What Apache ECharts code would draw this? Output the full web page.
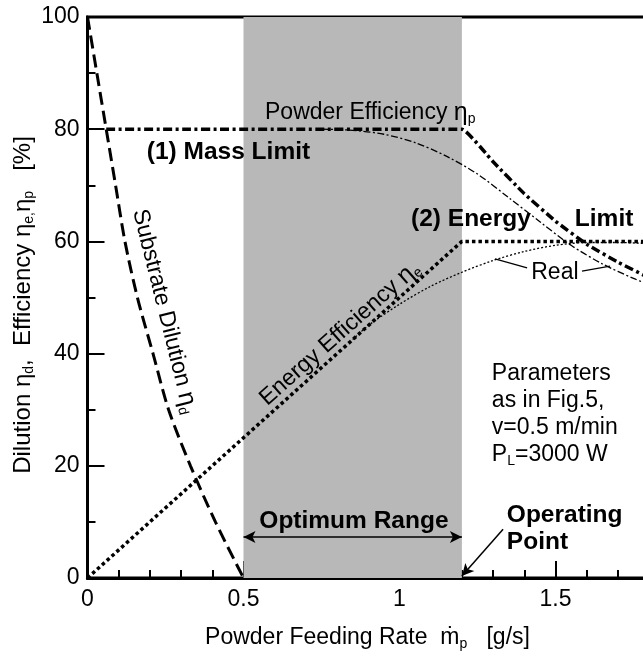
<!DOCTYPE html>
<html>
<head>
<meta charset="utf-8">
<script src="https://cdn.jsdelivr.net/npm/echarts@6/dist/echarts.min.js"></script>
<style>
  html, body { margin: 0; padding: 0; background: #fff; }
  #chart { width: 643px; height: 656px; }
</style>
</head>
<body>
<div id="chart"></div>
<script>
// data
const dilutionX = [0, 0.03, 0.06, 0.09, 0.12, 0.16, 0.21, 0.26, 0.33, 0.41, 0.5];
const dilutionY = [100, 90, 80, 70, 60, 50, 40, 30, 20, 10, 0];

const energyX = [0, 1.2, 1.8];
const energyY = [0, 60, 60];

const realEnergyX = [0.85, 0.9, 1.0, 1.1, 1.2, 1.3, 1.4, 1.5, 1.6, 1.7, 1.8];
const realEnergyY = [42.5, 45, 48.8, 52, 54.5, 56.6, 58.2, 59.3, 59.8, 59.8, 59.6];

const massX = [0.06, 1.2, 1.3, 1.4, 1.5, 1.6, 1.7, 1.8];
const massY = [80, 80, 74.2, 68.5, 63.6, 59.5, 56.3, 53.5];

const realPowderX = [0.75, 0.85, 0.95, 1.05, 1.15, 1.25, 1.35, 1.45, 1.55, 1.65, 1.75, 1.8];
const realPowderY = [80, 79.8, 79.1, 77.6, 75.2, 72.0, 67.8, 63.5, 59.3, 56.0, 53.4, 52.3];

const optimumRange = [0.5, 1.2];
const xTickLabels = ['0', '0.5', '1', '1.5'];

const FONT = 'Liberation Sans, Arial, sans-serif';

function pairs(xs, ys) {
    return xs.map((x, i) => [x, ys[i]]);
}

const sub = { fontSize: 14, lineHeight: 15, verticalAlign: 'bottom', fontFamily: FONT, color: '#000' };
const txt = { fontSize: 23, lineHeight: 27, verticalAlign: 'middle', fontFamily: FONT, color: '#000' };
const eta = Object.assign({}, txt, { fontSize: 25 });
const axisTxt = Object.assign({}, txt, { fontSize: 24 });

const chart = echarts.init(document.getElementById('chart'));

const option = {
    animation: false,
    backgroundColor: '#fff',
    grid: {
        left: 87.5, right: -68.5, top: 17, bottom: 78,
        show: true, borderColor: '#000', borderWidth: 3,
        outerBoundsMode: 'none'
    },
    xAxis: {
        type: 'value', min: 0, max: 2, interval: 0.5,
        splitLine: { show: false },
        axisLine: { lineStyle: { color: '#000', width: 3 } },
        axisTick: { inside: true, length: 17, lineStyle: { color: '#000', width: 2 } },
        minorTick: { show: true, splitNumber: 5, length: 8, lineStyle: { color: '#000', width: 2 } },
        axisLabel: {
            fontSize: 23, fontFamily: FONT, color: '#000', margin: 10,
            showMinLabel: true, showMaxLabel: false,
            formatter: v => xTickLabels.find(t => Math.abs(parseFloat(t) - v) < 1e-6) || ''
        },
        name: '{a|Powder Feeding Rate  m\u0307}{s|p}{a|   [g/s]}',
        nameLocation: 'middle', nameGap: 46,
        nameTextStyle: {
            fontSize: 23, fontFamily: FONT, color: '#000', padding: [0, 64, 0, 0],
            rich: { a: txt, s: sub }
        }
    },
    yAxis: {
        type: 'value', min: 0, max: 100, interval: 20,
        splitLine: { show: false },
        axisLine: { lineStyle: { color: '#000', width: 3 } },
        axisTick: { inside: true, length: 17, lineStyle: { color: '#000', width: 2 } },
        minorTick: { show: true, splitNumber: 2, length: 8, lineStyle: { color: '#000', width: 2 } },
        axisLabel: { fontSize: 23, fontFamily: FONT, color: '#000', margin: 8, showMinLabel: true, showMaxLabel: true },
        name: '{a|Dilution \u03b7}{s|d}{a|,  Efficiency \u03b7}{s|e,}{a|\u03b7}{s|p}{a|   [%]}',
        nameLocation: 'middle', nameGap: 51, nameMoveOverlap: false,
        nameTextStyle: {
            fontSize: 24, fontFamily: FONT, color: '#000', padding: [0, 15, 0, 0],
            rich: { a: axisTxt, s: sub }
        }
    },
    series: [
        {
            type: 'line', data: [], z: 1,
            markArea: {
                silent: true,
                itemStyle: { color: '#b8b8b8' },
                data: [[{ xAxis: optimumRange[0] }, { xAxis: optimumRange[1] }]]
            }
        },
        {
            name: 'Substrate Dilution', type: 'line', data: pairs(dilutionX, dilutionY),
            smooth: 0.3, symbol: 'none', z: 5,
            lineStyle: { color: '#000', width: 3, type: [13, 6], cap: 'butt' }
        },
        {
            name: 'Energy Efficiency', type: 'line', data: pairs(energyX, energyY),
            symbol: 'none', z: 5,
            lineStyle: { color: '#000', width: 3.5, type: [3.5, 3], cap: 'butt' }
        },
        {
            name: 'Energy Real', type: 'line', data: pairs(realEnergyX, realEnergyY),
            smooth: 0.3, symbol: 'none', z: 4,
            lineStyle: { color: '#000', width: 1.3, type: [2, 2], cap: 'butt' }
        },
        {
            name: 'Powder Efficiency', type: 'line', data: pairs(massX, massY),
            smooth: 0.1, symbol: 'none', z: 5,
            lineStyle: { color: '#000', width: 3.5, type: [9, 3.5, 3, 3.5], cap: 'butt' }
        },
        {
            name: 'Powder Real', type: 'line', data: pairs(realPowderX, realPowderY),
            smooth: 0.3, symbol: 'none', z: 4,
            lineStyle: { color: '#000', width: 1.3, type: [7, 2.5, 2, 2.5], cap: 'butt' }
        },
        {
            type: 'line', data: [], z: 6,
            markLine: {
                silent: true, symbol: ['arrow', 'arrow'], symbolSize: [9, 12],
                label: { show: false },
                lineStyle: { color: '#000', width: 1.5, type: 'solid' },
                data: [[{ coord: [0.5, 7.3] }, { coord: [1.2, 7.3] }]]
            }
        },
        {
            type: 'line', data: [], z: 6,
            markLine: {
                silent: true, symbol: ['none', 'arrow'], symbolSize: [9, 12],
                label: { show: false },
                lineStyle: { color: '#000', width: 1.5, type: 'solid' },
                data: [[{ coord: [1.332, 8.7] }, { coord: [1.2, 0.36] }]]
            }
        },
        {
            type: 'line', data: [], z: 6,
            markLine: {
                silent: true, symbol: ['none', 'none'],
                label: { show: false },
                lineStyle: { color: '#000', width: 1.3, type: 'solid' },
                data: [
                    [{ coord: [1.409, 55.3] }, { coord: [1.306, 56.9] }],
                    [{ coord: [1.585, 54.7] }, { coord: [1.675, 55.6] }]
                ]
            }
        }
    ]
};

chart.setOption(option);

// annotation texts, anchored in data coordinates
const notes = [
    { at: [0.569, 82.9], text: '{a|Powder Efficiency }{e|\u03b7}{s|p}', align: 'left' },
    { at: [0.19, 75.9], text: '{b|(1) Mass Limit}', align: 'left' },
    { at: [1.037, 64], text: '{b|(2) Energy}', align: 'left' },
    { at: [1.562, 64], text: '{b|Limit}', align: 'left' },
    { at: [0.247, 47.5], text: '{a|Substrate Dilution }{e|\u03b7}{s|d}', align: 'center', rotate: -76 },
    { at: [0.809, 43.6], text: '{a|Energy Efficiency }{e|\u03b7}{s|e}', align: 'center', rotate: 41.5 },
    { at: [1.498, 54.4], text: '{a|Real}', align: 'center' },
    { at: [0.854, 10.2], text: '{b|Optimum Range}', align: 'center' },
    { at: [1.296, 36.4], text: '{p|Parameters}\n{p|as in Fig.5,}\n{p|v=0.5 m/min}\n{p|P}{s|L}{p|=3000 W}', align: 'left', top: true },
    { at: [1.344, 11.2], text: '{q|Operating}\n{q|Point}', align: 'left', top: true }
];

const rich = {
    a: txt,
    e: eta,
    b: Object.assign({}, txt, { fontSize: 24.5, fontWeight: 'bold' }),
    p: Object.assign({}, txt, { lineHeight: 27 }),
    q: Object.assign({}, txt, { fontSize: 24.5, lineHeight: 27, fontWeight: 'bold' }),
    s: sub
};

const graphic = notes.map(n => {
    const p = chart.convertToPixel({ gridIndex: 0 }, n.at);
    let y = p[1];
    if (n.top) y -= 13.5;
    return {
        type: 'text',
        x: p[0], y: y,
        rotation: (n.rotate || 0) * Math.PI / 180,
        z: 10,
        style: {
            text: n.text,
            rich: rich,
            align: n.align,
            verticalAlign: n.top ? 'top' : 'middle',
            fontFamily: FONT,
            fontSize: 23,
            fill: '#000'
        }
    };
});

chart.setOption({ graphic: graphic });
</script>
</body>
</html>
